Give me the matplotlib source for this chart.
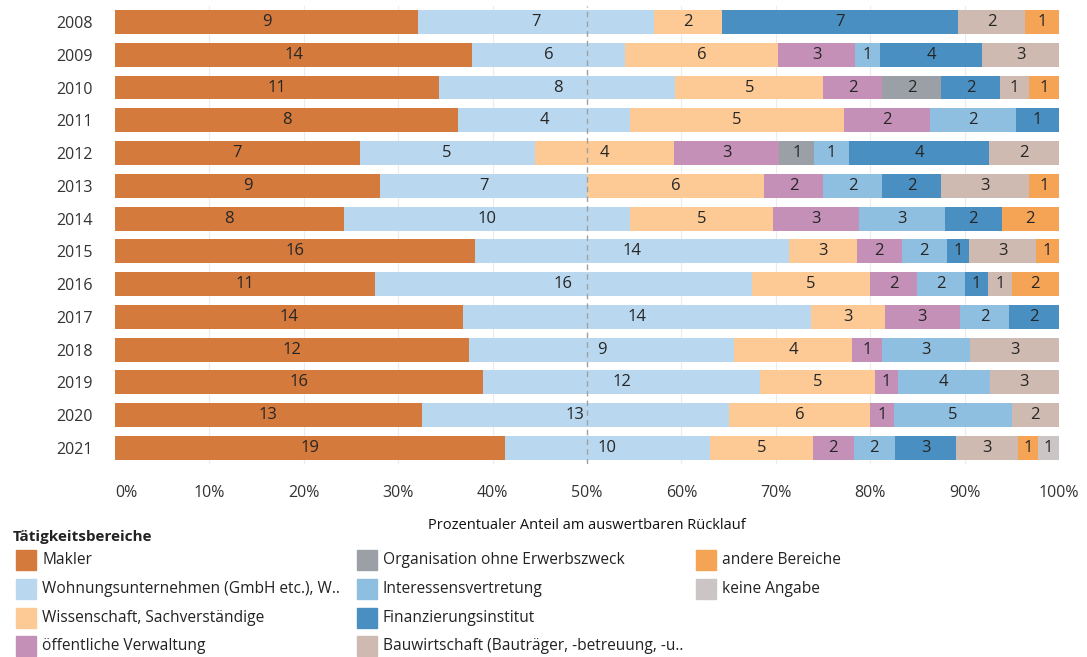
import matplotlib
matplotlib.use("Agg")
import matplotlib.pyplot as plt
from matplotlib.patches import Rectangle
import numpy as np

plt.rcParams['font.family'] = ['Open Sans', 'DejaVu Sans']

years = [2008, 2009, 2010, 2011, 2012, 2013, 2014, 2015, 2016, 2017, 2018, 2019, 2020, 2021]

categories = [
    "Makler",
    "Wohnungsunternehmen (GmbH etc.), W..",
    "Wissenschaft, Sachverständige",
    "öffentliche Verwaltung",
    "Organisation ohne Erwerbszweck",
    "Interessensvertretung",
    "Finanzierungsinstitut",
    "Bauwirtschaft (Bauträger, -betreuung, -u..",
    "andere Bereiche",
    "keine Angabe",
]

makler        = [9, 14, 11, 8, 7, 9, 8, 16, 11, 14, 12, 16, 13, 19]
wohnung       = [7, 6, 8, 4, 5, 7, 10, 14, 16, 14, 9, 12, 13, 10]
wissenschaft  = [2, 6, 5, 5, 4, 6, 5, 3, 5, 3, 4, 5, 6, 5]
verwaltung    = [0, 3, 2, 2, 3, 2, 3, 2, 2, 3, 1, 1, 1, 2]
organisation  = [0, 0, 2, 0, 1, 0, 0, 0, 0, 0, 0, 0, 0, 0]
interessen    = [0, 1, 0, 2, 1, 2, 3, 2, 2, 2, 3, 4, 5, 2]
finanzierung  = [7, 4, 2, 1, 4, 2, 2, 1, 1, 2, 0, 0, 0, 3]
bauwirtschaft = [2, 3, 1, 0, 2, 3, 0, 3, 1, 0, 3, 3, 2, 3]
andere        = [1, 0, 1, 0, 0, 1, 2, 1, 2, 0, 0, 0, 0, 1]
keine         = [0, 0, 0, 0, 0, 0, 0, 0, 0, 0, 0, 0, 0, 1]

series = [makler, wohnung, wissenschaft, verwaltung, organisation,
          interessen, finanzierung, bauwirtschaft, andere, keine]

colors = ["#d47a3c", "#b9d8ef", "#fdca96", "#c490b8", "#9aa0a6",
          "#8fbfe0", "#4a8fc2", "#cfbab1", "#f5a456", "#cbc5c5"]

counts = np.array(series, dtype=float)
totals = counts.sum(axis=0)
shares = counts / totals

fig = plt.figure(figsize=(10.87, 6.57), dpi=100)
ax = fig.add_axes([0.1058, 0.2932, 0.8684, 0.6983])

y = np.arange(len(years))
left = np.zeros(len(years))
for vals, share, col in zip(counts, shares, colors):
    ax.barh(y, share, left=left, height=0.73, color=col, zorder=2, linewidth=0)
    for i, (v, s) in enumerate(zip(vals, share)):
        if v > 0:
            ax.text(left[i] + s / 2, y[i], f"{int(v)}", ha="center", va="center",
                    fontsize=12, color="#262626", zorder=4)
    left += share

ax.set_xlim(0, 1)
ax.set_ylim(len(years) - 0.5, -0.5)
ax.set_yticks(y)
ax.set_yticklabels([str(v) for v in years])
xt = np.arange(0, 1.01, 0.1)
ax.set_xticks(xt)
ax.set_xticklabels([f"{int(round(v * 100))}%" for v in xt])
ax.get_xticklabels()[0].set_horizontalalignment("left")
ax.tick_params(axis="both", length=0, labelsize=11.5, colors="#333333")
ax.tick_params(axis="x", pad=15)
ax.tick_params(axis="y", pad=16)

for v in xt[1:-1]:
    if abs(v - 0.5) > 1e-6:
        ax.axvline(v, color="#ececec", linewidth=0.8, zorder=1)
ax.axvline(0.5, color="#a0a0a0", linewidth=1.0, linestyle=(0, (4, 3)), zorder=3)

for sp in ax.spines.values():
    sp.set_visible(False)

ax.set_xlabel("Prozentualer Anteil am auswertbaren Rücklauf", fontsize=10.5,
              color="#111111", labelpad=12)

# legend, laid out in three columns
W, H = 1087, 657
fig.text(13 / W, 1 - 537 / H, "Tätigkeitsbereiche", fontsize=11, fontweight="bold",
         color="#222222", ha="left", va="center")
col_x = [16, 357, 696]
row_y = [560, 589, 618, 646]
layout = [(0, 0), (0, 1), (0, 2), (0, 3), (1, 0), (1, 1), (1, 2), (1, 3), (2, 0), (2, 1)]
for name, col, (c, r) in zip(categories, colors, layout):
    x0 = col_x[c]
    yc = row_y[r]
    fig.patches.append(Rectangle((x0 / W, 1 - (yc + 10) / H), 20 / W, 20 / H,
                                 transform=fig.transFigure, color=col))
    fig.text((x0 + 26) / W, 1 - yc / H, name, fontsize=11.2, color="#222222",
             ha="left", va="center")

fig.savefig("out.png", dpi=100, facecolor="white")
